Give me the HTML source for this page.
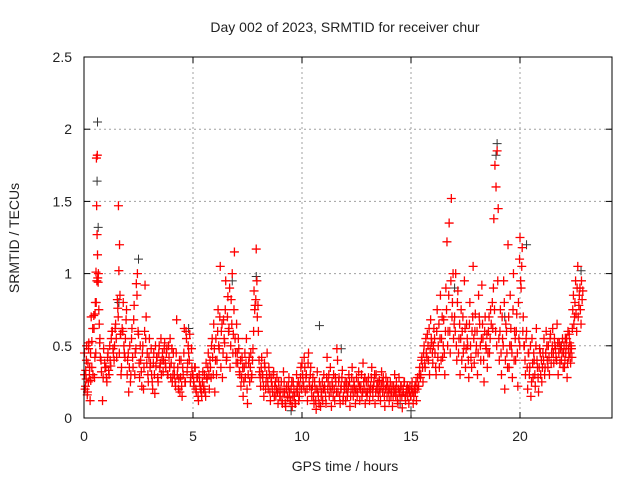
<!DOCTYPE html>
<html><head><meta charset="utf-8"><style>
html,body{margin:0;padding:0;background:#fff;}
svg text{font-family:"Liberation Sans",sans-serif;font-size:14px;fill:#222;}
</style></head><body>
<svg id="chart" width="640" height="480" viewBox="0 0 640 480" xmlns="http://www.w3.org/2000/svg">
<rect width="640" height="480" fill="#fff"/>
<text x="345" y="32" text-anchor="middle">Day 002 of 2023, SRMTID for receiver chur</text>
<text x="345" y="471" text-anchor="middle">GPS time / hours</text>
<text transform="translate(19,238) rotate(-90)" text-anchor="middle">SRMTID / TECUs</text>
<g id="grid"></g>
<g id="ticks"></g>
<g id="blackSeries"></g>
<g id="redSeries"></g>
<rect x="84" y="57" width="528" height="361" fill="none" stroke="#000" stroke-width="1"/>
</svg>
<script>
const xTicks=[0,5,10,15,20];
const yTicks=[0,0.5,1,1.5,2,2.5];
const yTickLabels=["0","0.5","1","1.5","2","2.5"];
const redT=[
0.02,0.05,0.08,0.1,0.12,0.15,0.18,0.2,0.22,0.25,0.28,0.3,0.33,0.36,0.4,0.45,0.48,0.5,0.52,0.55,0.57,0.58,0.6,0.62,0.63,0.65,0.68,0.7,0.72,0.75,0.8,0.85,0.9,0.95,
1.0,1.05,1.1,1.15,1.2,1.25,1.3,1.35,1.4,1.45,1.5,1.55,1.58,1.6,1.63,1.65,1.68,1.7,1.75,1.8,1.85,1.9,1.95,
2.0,2.05,2.1,2.15,2.2,2.25,2.3,2.35,2.4,2.45,2.5,2.55,2.6,2.65,2.7,2.75,2.8,2.85,2.9,2.95,
3.0,3.05,3.1,3.15,3.2,3.25,3.3,3.35,3.4,3.45,3.5,3.55,3.6,3.65,3.7,3.75,3.8,3.85,3.9,3.95,
4.0,4.05,4.1,4.15,4.2,4.25,4.3,4.35,4.4,4.45,4.5,4.55,4.6,4.65,4.7,4.75,4.8,4.85,4.9,4.95,
5.0,5.05,5.1,5.15,5.2,5.25,5.3,5.35,5.4,5.45,5.5,5.55,5.6,5.65,5.7,5.75,5.8,5.85,5.9,5.95,
6.0,6.05,6.1,6.15,6.2,6.25,6.3,6.35,6.4,6.45,6.5,6.55,6.6,6.65,6.7,6.75,6.8,6.85,6.9,6.95,
7.0,7.05,7.1,7.15,7.2,7.25,7.3,7.35,7.4,7.45,7.5,7.55,7.6,7.65,7.7,7.75,7.8,7.85,7.9,7.95,
8.0,8.05,8.1,8.15,8.2,8.25,8.3,8.35,8.4,8.45,8.5,8.55,8.6,8.65,8.7,8.75,8.8,8.85,8.9,8.95,
9.0,9.05,9.1,9.15,9.2,9.25,9.3,9.35,9.4,9.45,9.5,9.55,9.6,9.65,9.7,9.75,9.8,9.85,9.9,9.95,
10.0,10.05,10.1,10.15,10.2,10.25,10.3,10.35,10.4,10.45,10.5,10.55,10.6,10.65,10.7,10.75,10.8,10.85,10.9,10.95,
11.0,11.05,11.1,11.15,11.2,11.25,11.3,11.35,11.4,11.45,11.5,11.55,11.6,11.65,11.7,11.75,11.8,11.85,11.9,11.95,
12.0,12.05,12.1,12.15,12.2,12.25,12.3,12.35,12.4,12.45,12.5,12.55,12.6,12.65,12.7,12.75,12.8,12.85,12.9,12.95,
13.0,13.05,13.1,13.15,13.2,13.25,13.3,13.35,13.4,13.45,13.5,13.55,13.6,13.65,13.7,13.75,13.8,13.85,13.9,13.95,
14.0,14.05,14.1,14.15,14.2,14.25,14.3,14.35,14.4,14.45,14.5,14.55,14.6,14.65,14.7,14.75,14.8,14.85,14.9,14.95,
15.0,15.05,15.1,15.15,15.2,15.25,15.3,15.35,15.4,15.45,15.5,15.55,15.6,15.65,15.7,15.75,15.8,15.85,15.9,15.95,
16.0,16.05,16.1,16.15,16.2,16.25,16.3,16.35,16.4,16.45,16.5,16.55,16.6,16.65,16.7,16.75,16.8,16.85,16.9,16.95,
17.0,17.05,17.1,17.15,17.2,17.25,17.3,17.35,17.4,17.45,17.5,17.55,17.6,17.65,17.7,17.75,17.8,17.85,17.9,17.95,
18.0,18.05,18.1,18.15,18.2,18.25,18.3,18.35,18.4,18.45,18.5,18.55,18.6,18.65,18.8,18.85,18.9,18.95,19.0,18.75,
19.05,19.1,19.15,19.2,19.25,19.3,19.35,19.4,19.45,19.5,19.55,19.6,19.65,19.7,19.75,19.8,19.85,19.9,19.95,19.98,
20.0,20.05,20.1,20.15,20.2,20.25,20.3,20.35,20.4,20.45,20.5,20.55,20.6,20.65,20.7,20.75,20.8,20.85,20.9,20.95,
21.0,21.05,21.1,21.15,21.2,21.25,21.3,21.35,21.4,21.45,21.5,21.55,21.6,21.65,21.7,21.75,21.8,21.85,21.9,21.95,
22.0,22.04,22.08,22.12,22.16,22.2,22.24,22.28,22.32,22.36,22.4,22.45,22.5,22.55,22.6,22.65,22.7,22.75,22.8,22.85
];
const redV=[
0.45,0.2,0.33,0.27,0.5,0.16,0.38,0.25,0.52,0.3,0.12,0.45,0.7,0.35,0.62,0.71,0.28,0.42,0.8,1.01,1.8,1.47,1.27,1.13,0.97,0.94,0.75,0.65,0.52,0.42,0.32,0.12,0.48,0.38,
0.35,0.25,0.45,0.3,0.4,0.55,0.6,0.45,0.5,0.65,0.42,0.76,1.47,1.02,1.2,0.85,0.58,0.3,0.62,0.8,0.45,0.55,0.75,
0.4,0.18,0.5,0.3,0.62,0.35,0.78,0.45,0.93,1.0,0.58,0.28,0.4,0.22,0.5,0.35,0.92,0.7,0.45,0.25,
0.55,0.38,0.3,0.2,0.45,0.17,0.36,0.42,0.25,0.5,0.38,0.3,0.45,0.4,0.52,0.35,0.48,0.3,0.42,0.55,
0.38,0.25,0.45,0.3,0.22,0.68,0.35,0.27,0.18,0.4,0.15,0.3,0.62,0.25,0.55,0.38,0.45,0.58,0.28,0.35,
0.3,0.22,0.35,0.18,0.28,0.12,0.25,0.2,0.15,0.32,0.22,0.18,0.38,0.27,0.45,0.2,0.35,0.5,0.42,0.65,
0.18,0.55,0.4,0.75,0.48,1.05,0.6,0.28,0.68,0.52,0.95,0.42,0.84,0.62,0.35,0.82,1.0,0.58,1.15,0.45,
0.65,0.38,0.48,0.3,0.22,0.42,0.15,0.35,0.28,0.55,0.1,0.38,0.25,0.45,0.3,0.48,0.88,0.78,1.17,0.7,
0.6,0.32,0.22,0.42,0.28,0.15,0.35,0.25,0.45,0.2,0.3,0.12,0.25,0.18,0.32,0.22,0.15,0.28,0.1,0.2,
0.15,0.25,0.1,0.32,0.18,0.08,0.22,0.14,0.28,0.12,0.2,0.08,0.25,0.15,0.1,0.3,0.18,0.12,0.22,0.35,
0.38,0.25,0.42,0.18,0.3,0.12,0.45,0.22,0.35,0.15,0.28,0.1,0.2,0.06,0.32,0.15,0.25,0.08,0.18,0.12,
0.3,0.2,0.1,0.42,0.25,0.15,0.35,0.08,0.22,0.3,0.12,0.25,0.48,0.18,0.28,0.1,0.22,0.33,0.15,0.2,
0.12,0.25,0.18,0.3,0.08,0.2,0.35,0.15,0.22,0.1,0.28,0.18,0.32,0.12,0.22,0.15,0.38,0.2,0.1,0.25,
0.18,0.28,0.12,0.22,0.35,0.15,0.25,0.1,0.3,0.2,0.15,0.26,0.12,0.32,0.18,0.22,0.08,0.28,0.15,0.2,
0.12,0.25,0.18,0.08,0.22,0.3,0.15,0.2,0.1,0.28,0.16,0.22,0.07,0.18,0.25,0.12,0.2,0.15,0.1,0.22,
0.15,0.25,0.1,0.2,0.18,0.12,0.28,0.22,0.35,0.3,0.42,0.25,0.5,0.35,0.45,0.58,0.4,0.3,0.68,0.52,
0.38,0.62,0.45,0.3,0.75,0.5,0.35,0.85,0.55,0.42,0.68,0.3,0.9,1.22,0.6,1.35,0.45,1.52,0.8,0.55,
0.7,1.0,0.4,0.88,0.55,0.3,0.75,0.6,0.45,0.95,0.35,0.65,0.5,0.28,0.8,0.42,0.6,1.05,0.38,0.72,
0.5,0.3,0.85,0.65,0.4,0.92,0.55,0.25,0.7,0.48,0.35,0.6,0.45,0.75,1.38,1.75,1.6,1.85,1.45,0.62,
0.4,0.75,0.3,0.55,0.95,0.2,0.65,0.45,1.2,0.35,0.85,0.5,0.28,1.0,0.6,0.4,0.72,0.22,0.55,1.1,
1.25,0.9,1.18,0.7,0.5,0.3,0.6,0.2,0.45,0.35,0.15,0.55,0.28,0.4,0.22,0.62,0.35,0.18,0.48,0.3,
0.25,0.45,0.55,0.35,0.6,0.4,0.5,0.3,0.58,0.45,0.62,0.38,0.5,0.42,0.65,0.3,0.52,0.48,0.4,0.55,
0.45,0.35,0.55,0.5,0.28,0.6,0.42,0.52,0.38,0.48,0.62,0.85,0.7,0.95,0.6,1.05,0.78,0.9,0.65,0.82
];
const redT2=[
0.03,0.07,0.11,0.16,0.21,0.26,0.31,0.36,0.41,0.46,0.51,0.54,0.56,0.59,0.61,0.66,0.73,0.78,0.88,0.97,
1.03,1.08,1.13,1.18,1.23,1.28,1.33,1.38,1.43,1.48,1.53,1.57,1.62,1.67,1.72,1.78,1.83,1.88,1.93,1.98,
2.03,2.08,2.13,2.18,2.23,2.28,2.33,2.38,2.43,2.48,2.53,2.58,2.63,2.68,2.73,2.78,2.83,2.88,2.93,2.98,
3.03,3.08,3.13,3.18,3.23,3.28,3.33,3.38,3.43,3.48,3.53,3.58,3.63,3.68,3.73,3.78,3.83,3.88,3.93,3.98,
4.03,4.08,4.13,4.18,4.23,4.28,4.33,4.38,4.43,4.48,4.53,4.58,4.63,4.68,4.73,4.78,4.83,4.88,4.93,4.98,
5.03,5.08,5.13,5.18,5.23,5.28,5.33,5.38,5.43,5.48,5.53,5.58,5.63,5.68,5.73,5.78,5.83,5.88,5.93,5.98,
6.03,6.08,6.13,6.18,6.23,6.28,6.33,6.38,6.43,6.48,6.53,6.58,6.63,6.68,6.73,6.78,6.83,6.88,6.93,6.98,
7.03,7.08,7.13,7.18,7.23,7.28,7.33,7.38,7.43,7.48,7.53,7.58,7.63,7.68,7.73,7.78,7.83,7.88,7.93,7.98,
8.03,8.08,8.13,8.18,8.23,8.28,8.33,8.38,8.43,8.48,8.53,8.58,8.63,8.68,8.73,8.78,8.83,8.88,8.93,8.98,
9.03,9.08,9.13,9.18,9.23,9.28,9.33,9.38,9.43,9.48,9.53,9.58,9.63,9.68,9.73,9.78,9.83,9.88,9.93,9.98,
10.03,10.08,10.13,10.18,10.23,10.28,10.33,10.38,10.43,10.48,10.53,10.58,10.63,10.68,10.73,10.78,10.83,10.88,10.93,10.98,
11.03,11.08,11.13,11.18,11.23,11.28,11.33,11.38,11.43,11.48,11.53,11.58,11.63,11.68,11.73,11.78,11.83,11.88,11.93,11.98,
12.03,12.08,12.13,12.18,12.23,12.28,12.33,12.38,12.43,12.48,12.53,12.58,12.63,12.68,12.73,12.78,12.83,12.88,12.93,12.98,
13.03,13.08,13.13,13.18,13.23,13.28,13.33,13.38,13.43,13.48,13.53,13.58,13.63,13.68,13.73,13.78,13.83,13.88,13.93,13.98,
14.03,14.08,14.13,14.18,14.23,14.28,14.33,14.38,14.43,14.48,14.53,14.58,14.63,14.68,14.73,14.78,14.83,14.88,14.93,14.98,
15.03,15.08,15.13,15.18,15.23,15.28,15.33,15.38,15.43,15.48,15.53,15.58,15.63,15.68,15.73,15.78,15.83,15.88,15.93,15.98,
16.03,16.08,16.13,16.18,16.23,16.28,16.33,16.38,16.43,16.48,16.53,16.58,16.63,16.68,16.73,16.78,16.83,16.88,16.93,16.98,
17.03,17.08,17.13,17.18,17.23,17.28,17.33,17.38,17.43,17.48,17.53,17.58,17.63,17.68,17.73,17.78,17.83,17.88,17.93,17.98,
18.03,18.08,18.13,18.18,18.23,18.28,18.33,18.38,18.43,18.48,18.53,18.58,18.63,18.68,18.73,18.78,18.83,18.88,18.93,18.98,
19.03,19.08,19.13,19.18,19.23,19.28,19.33,19.38,19.43,19.48,19.53,19.58,19.63,19.68,19.73,19.78,19.83,19.88,19.93,19.99,
20.03,20.08,20.13,20.18,20.23,20.28,20.33,20.38,20.43,20.48,20.53,20.58,20.63,20.68,20.73,20.78,20.83,20.88,20.93,20.98,
21.03,21.08,21.13,21.18,21.23,21.28,21.33,21.38,21.43,21.48,21.53,21.58,21.63,21.68,21.73,21.78,21.83,21.88,21.93,21.98,
22.02,22.06,22.1,22.14,22.18,22.22,22.26,22.3,22.34,22.38,22.42,22.47,22.52,22.57,22.62,22.67,22.72,22.77,22.82,22.88
];
const redV2=[
0.3,0.22,0.4,0.18,0.48,0.35,0.26,0.53,0.3,0.62,0.72,0.45,0.8,0.95,1.82,1.0,0.55,0.4,0.28,0.35,
0.28,0.42,0.33,0.5,0.36,0.6,0.48,0.4,0.62,0.55,0.82,0.7,0.45,0.58,0.35,0.6,0.5,0.42,0.68,0.3,
0.45,0.35,0.25,0.55,0.42,0.68,0.3,0.48,0.85,0.6,0.38,0.5,0.32,0.45,0.2,0.6,0.55,0.38,0.3,0.42,
0.35,0.48,0.25,0.38,0.3,0.5,0.42,0.28,0.45,0.35,0.55,0.4,0.32,0.48,0.38,0.45,0.3,0.5,0.35,0.28,
0.48,0.3,0.35,0.25,0.45,0.3,0.2,0.4,0.28,0.22,0.35,0.45,0.25,0.6,0.32,0.5,0.4,0.25,0.48,0.3,
0.25,0.35,0.2,0.28,0.15,0.3,0.22,0.18,0.25,0.2,0.3,0.15,0.28,0.35,0.3,0.4,0.28,0.55,0.3,0.48,
0.4,0.3,0.6,0.5,0.7,0.35,0.65,0.45,0.55,0.75,0.4,0.7,0.6,0.9,0.5,0.65,0.45,0.75,0.55,0.38,
0.45,0.55,0.32,0.4,0.28,0.35,0.25,0.45,0.38,0.2,0.3,0.42,0.35,0.28,0.4,0.6,0.75,0.82,0.95,0.78,
0.4,0.28,0.35,0.3,0.22,0.38,0.2,0.3,0.25,0.35,0.18,0.28,0.22,0.3,0.15,0.25,0.2,0.18,0.25,0.15,
0.2,0.12,0.18,0.25,0.1,0.2,0.15,0.22,0.18,0.12,0.25,0.15,0.2,0.1,0.18,0.22,0.25,0.15,0.28,0.2,
0.3,0.22,0.35,0.28,0.2,0.38,0.25,0.3,0.2,0.22,0.15,0.25,0.12,0.2,0.18,0.1,0.22,0.15,0.25,0.2,
0.22,0.15,0.28,0.2,0.3,0.22,0.18,0.25,0.15,0.2,0.28,0.18,0.4,0.25,0.15,0.2,0.28,0.12,0.22,0.25,
0.2,0.15,0.22,0.25,0.15,0.28,0.2,0.25,0.18,0.2,0.15,0.25,0.22,0.2,0.3,0.18,0.25,0.28,0.18,0.15,
0.25,0.2,0.18,0.28,0.2,0.22,0.3,0.18,0.22,0.25,0.2,0.18,0.22,0.25,0.28,0.15,0.2,0.22,0.25,0.18,
0.2,0.15,0.22,0.15,0.18,0.2,0.25,0.12,0.2,0.18,0.22,0.15,0.2,0.25,0.15,0.18,0.22,0.2,0.18,0.15,
0.2,0.18,0.15,0.22,0.25,0.2,0.22,0.3,0.28,0.4,0.35,0.45,0.38,0.55,0.42,0.5,0.62,0.48,0.55,0.45,
0.5,0.55,0.35,0.6,0.42,0.65,0.55,0.4,0.7,0.5,0.45,0.6,0.75,0.5,0.85,0.6,0.95,0.7,1.0,0.65,
0.6,0.5,0.8,0.45,0.65,0.55,0.4,0.7,0.5,0.62,0.48,0.55,0.4,0.65,0.5,0.35,0.7,0.55,0.6,0.45,
0.6,0.45,0.7,0.5,0.55,0.65,0.4,0.6,0.5,0.58,0.45,0.7,0.55,0.65,0.8,0.9,0.75,0.6,0.5,0.95,
0.55,0.6,0.45,0.7,0.5,0.8,0.4,0.6,0.35,0.7,0.5,0.62,0.45,0.75,0.4,0.55,0.6,0.45,0.8,0.5,
0.95,1.05,0.6,0.5,0.4,0.55,0.35,0.45,0.3,0.5,0.25,0.38,0.45,0.3,0.5,0.4,0.28,0.35,0.45,0.4,
0.35,0.4,0.3,0.45,0.5,0.35,0.42,0.55,0.38,0.5,0.45,0.55,0.48,0.4,0.52,0.45,0.38,0.5,0.45,0.35,
0.5,0.4,0.45,0.55,0.38,0.48,0.58,0.45,0.5,0.42,0.75,0.65,0.8,0.72,0.9,0.7,0.85,0.75,0.95,0.88
];
const blackT=[0.62,0.6,0.65,2.5,10.8,18.95,18.9,15.0,14.5,20.3,6.8,22.8,11.8,9.5,4.8,1.6,7.9,17.0,19.3,21.9];
const blackV=[2.05,1.64,1.32,1.1,0.64,1.9,1.82,0.05,0.1,1.2,0.95,1.02,0.48,0.05,0.62,0.8,0.98,0.9,0.7,0.5];

const X0=84,X1=612,Y0=418,Y1=57,XMAX=24.22,YMAX=2.5;
function xs(t){return X0+(X1-X0)*t/XMAX;}
function ys(v){return Y0-(Y0-Y1)*v/YMAX;}
const NS="http://www.w3.org/2000/svg";
function mk(tag,attrs,parent){const e=document.createElementNS(NS,tag);for(const k in attrs)e.setAttribute(k,attrs[k]);parent.appendChild(e);return e;}
const grid=document.getElementById('grid'),ticks=document.getElementById('ticks');
xTicks.forEach(t=>{
  const x=xs(t);
  if(t>0){const g=mk('line',{x1:x,x2:x,y1:Y1,y2:Y0,stroke:'#a0a0a0','stroke-dasharray':'2,3'},grid);
  
  }
  mk('line',{x1:x,x2:x,y1:Y0,y2:Y0-6,stroke:'#000'},ticks);
  mk('line',{x1:x,x2:x,y1:Y1,y2:Y1+6,stroke:'#000'},ticks);
  const l=mk('text',{x:x,y:Y0+23,'text-anchor':'middle'},ticks);l.textContent=String(t);
  
  
});
yTicks.forEach((v,i)=>{
  const y=ys(v);
  if(v>0&&v<YMAX){const g=mk('line',{x1:X0,x2:X1,y1:y,y2:y,stroke:'#a0a0a0','stroke-dasharray':'2,3'},grid);
  
  }
  mk('line',{x1:X0,x2:X0+6,y1:y,y2:y,stroke:'#000'},ticks);
  mk('line',{x1:X1,x2:X1-6,y1:y,y2:y,stroke:'#000'},ticks);
  const l=mk('text',{x:X0-12,y:y+5,'text-anchor':'end'},ticks);l.textContent=yTickLabels[i];
  
  
});
function plus(g,t,v,color,w){
  const x=xs(t),y=ys(v);
  const p=mk('path',{d:`M${x-4.5},${y}H${x+4.5}M${x},${y-4.5}V${y+4.5}`,stroke:color,'stroke-width':w,fill:'none'},g);
  
  
}
const bg=document.getElementById('blackSeries'),rg=document.getElementById('redSeries');
blackT.forEach((t,i)=>plus(bg,t,blackV[i],'#333',1));
redT.forEach((t,i)=>plus(rg,t,redV[i],'#ff0000',1.3));
redT2.forEach((t,i)=>plus(rg,t,redV2[i],'#ff0000',1.3));
</script>
</body></html>
